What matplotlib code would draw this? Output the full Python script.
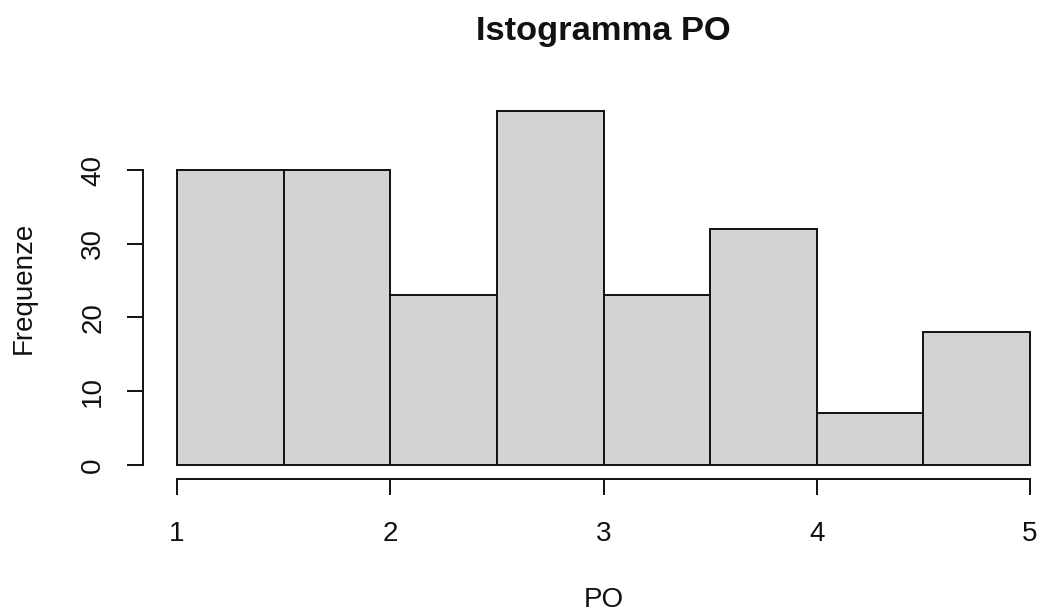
import matplotlib.pyplot as plt
import numpy as np

plt.rcParams['font.family'] = ['Liberation Sans', 'DejaVu Sans']

# istogramma: estremi delle classi e frequenze
breaks = [1.0, 1.5, 2.0, 2.5, 3.0, 3.5, 4.0, 4.5, 5.0]
counts = [40, 40, 23, 48, 23, 32, 7, 18]
x_ticks = [1, 2, 3, 4, 5]
y_ticks = [0, 10, 20, 30, 40]

W, H = 1040, 616
fig = plt.figure(figsize=(W / 100, H / 100), dpi=100)
# regione del grafico in pixel (stile R, con 4% di margine)
left, right, top, bottom = 143, 1064, 97, 479
ax = fig.add_axes([left / W, 1 - bottom / H, (right - left) / W, (bottom - top) / H])

edges = np.array(breaks)
ax.bar(edges[:-1], counts, width=np.diff(edges), align='edge',
       color='#d3d3d3', edgecolor='#111111', linewidth=1.4)

ax.set_xlim(1 - 0.04 * 4, 5 + 0.04 * 4)
ax.set_ylim(-0.04 * 48, 48 + 0.04 * 48)

for s in ['top', 'right']:
    ax.spines[s].set_visible(False)
ax.spines['left'].set_bounds(0, 40)
ax.spines['bottom'].set_bounds(1, 5)
for s in ['left', 'bottom']:
    ax.spines[s].set_linewidth(1.4)
    ax.spines[s].set_color('#111111')

ax.set_xticks(x_ticks)
ax.set_xticklabels([str(v) for v in x_ticks])
ax.set_yticks(y_ticks)
ax.set_yticklabels([str(v) for v in y_ticks], rotation=90, va='center')
ax.tick_params(axis='x', length=11.5, width=1.4, pad=19, labelsize=20, colors='#111111')
ax.tick_params(axis='y', length=11.5, width=1.4, pad=15, labelsize=20, colors='#111111')

ax.set_xlabel('PO', fontsize=20, va='center', color='#111111')
ax.xaxis.set_label_coords(0.5, -0.317)
ax.set_ylabel('Frequenze', fontsize=20, va='center', color='#111111')
ax.yaxis.set_label_coords((24 - left) / (right - left), 0.5)

ax.set_title('Istogramma PO', fontsize=24.8, fontweight='bold',
             y=(bottom - 40) / (bottom - top), va='center', color='#111111')

fig.savefig('out.png', dpi=100)
